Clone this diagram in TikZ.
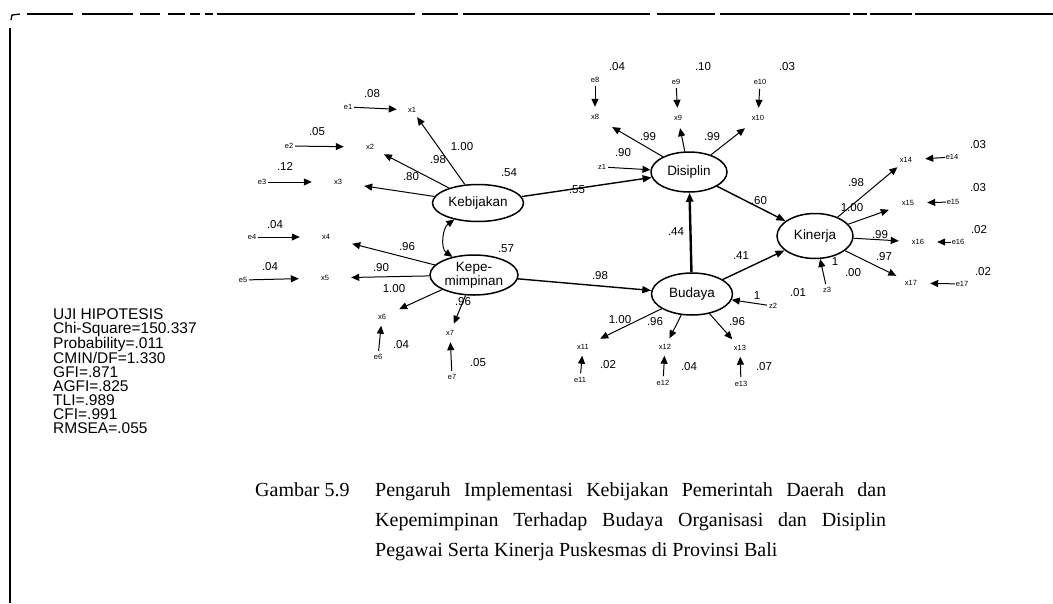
\documentclass[tikz,border=0pt]{standalone}
\usepackage{fontspec}
\setmainfont{Liberation Sans}
\newfontfamily\capfont{Liberation Serif}
\usetikzlibrary{shapes.geometric,arrows.meta}
\begin{document}
\begin{tikzpicture}[x=1pt,y=-1pt,
  lat/.style={ellipse,draw,line width=1.5pt,inner sep=0pt,align=center,font=\fontsize{13.5}{11.5}\selectfont},
  num/.style={font=\fontsize{11.5}{12}\selectfont,inner sep=0.5pt},
  ind/.style={font=\fontsize{7.5}{8}\selectfont,inner sep=0pt,minimum height=14pt},
  err/.style={circle,font=\fontsize{7.5}{8}\selectfont,inner sep=0pt,minimum size=12pt},
  arr/.style={-{Triangle[length=8pt,width=7pt]},line width=1pt},
  spath/.style={-{Triangle[length=9pt,width=7pt]},line width=1.4pt},
  frame/.style={line width=1.3pt}
]
\useasboundingbox (0,0) rectangle (1053,603);
% frame
\draw[frame] (10,603) -- (10,28);
\draw[frame] (11,20) -- (12,15) -- (20,14);
\foreach \a/\b in {27/73,82/133,140/160,168/185,190/200,205/213,217/415,422/458,463/650,657/715,720/850,853/867,870/912,915/1053}
  \draw[frame] (\a,14) -- (\b,14);

% latent variables
\node[lat,minimum width=91pt,minimum height=37pt] (keb) at (478,203) {Kebijakan};
\node[lat,minimum width=88pt,minimum height=40pt] (kep) at (474,275) {Kepe-\\mimpinan};
\node[lat,minimum width=76pt,minimum height=40pt] (dis) at (689,172) {Disiplin};
\node[lat,minimum width=81pt,minimum height=42pt] (bud) at (692,294) {Budaya};
\node[lat,minimum width=76pt,minimum height=45pt] (kin) at (815,236) {Kinerja};
\node[num] (r1) at (509,173) {.54};
\node[num] (r2) at (506,249) {.57};

% structural paths
\draw[spath] (keb) -- (dis);
\node[num] (p1) at (577,190) {.55};
\draw[spath] (kep) -- (bud);
\node[num] (p2) at (600,276) {.98};
\draw[spath,line width=2.4pt] (bud) -- (dis);
\node[num] (p3) at (676,232) {.44};
\draw[spath] (dis) -- (kin);
\node[num] (p4) at (759,201) {.60};
\draw[spath] (bud) -- (kin);
\node[num] (p5) at (741,256) {.41};
\draw[{Triangle[length=8pt,width=7pt]}-{Triangle[length=8pt,width=7pt]},line width=1pt]
  (keb.215) to[out=215,in=145] (kep.140);

% Kebijakan indicators
\node[ind,minimum width=30pt] (x1) at (412,110) {x1};
\node[err] (e1) at (348,107) {e1};
\node[num] at (372,94) {.08};
\draw[arr] (e1) -- (x1);
\draw[arr] (keb) -- (x1);
\node[num] at (462,147) {1.00};

\node[ind,minimum width=52pt] (x2) at (370,147) {x2};
\node[err] (e2) at (289,146) {e2};
\node[num] at (317,132) {.05};
\draw[arr] (e2) -- (x2);
\draw[arr] (keb) -- (x2);
\node[num] at (438,160) {.98};

\node[ind,minimum width=52pt] (x3) at (338,182) {x3};
\node[err] (e3) at (262,182) {e3};
\node[num] at (285,166) {.12};
\draw[arr] (e3) -- (x3);
\draw[arr] (keb) -- (x3);
\node[num] at (411,177) {.80};

% Kepemimpinan indicators
\node[ind,minimum width=52pt] (x4) at (326,237) {x4};
\node[err] (e4) at (252,237) {e4};
\node[num] at (275,225) {.04};
\draw[arr] (e4) -- (x4);
\draw[arr] (kep) -- (x4);
\node[num] at (407,247) {.96};

\node[ind,minimum width=52pt] (x5) at (325,278) {x5};
\node[err] (e5) at (243,280) {e5};
\node[num] at (270,267) {.04};
\draw[arr] (e5) -- (x5);
\draw[arr] (kep) -- (x5);
\node[num] at (381,268) {.90};

\node[ind,minimum width=34pt,minimum height=17pt] (x6) at (382,317) {x6};
\node[err] (e6) at (378,357) {e6};
\node[num] at (401,345) {.04};
\draw[arr] (e6) -- (x6);
\draw[arr] (kep) -- (x6);
\node[num] at (394,289) {1.00};

\node[ind,minimum width=34pt,minimum height=18pt] (x7) at (450,333) {x7};
\node[err] (e7) at (452,377) {e7};
\node[num] at (478,363) {.05};
\draw[arr] (e7) -- (x7);
\draw[arr] (kep) -- (x7);
\node[num] at (463,302) {.96};

% Disiplin indicators
\node[ind,minimum width=34pt,minimum height=20pt] (x8) at (595,117) {x8};
\node[err] (e8) at (595,80) {e8};
\node[num] at (617,67) {.04};
\draw[arr] (e8) -- (x8);
\draw[arr] (dis) -- (x8);
\node[num] at (648,137) {.99};

\node[ind,minimum width=34pt,minimum height=20pt] (x9) at (678,118) {x9};
\node[err] (e9) at (676,82) {e9};
\node[num] at (703,67) {.10};
\draw[arr] (e9) -- (x9);
\draw[arr] (dis) -- (x9);
\node[num] at (712,137) {.99};

\node[ind,minimum width=34pt,minimum height=20pt] (x10) at (758,118) {x10};
\node[err] (e10) at (760,82) {e10};
\node[num] at (787,67) {.03};
\draw[arr] (e10) -- (x10);
\draw[arr] (dis) -- (x10);

\node[err] (z1) at (602,167) {z1};
\node[num] at (623,153) {.90};
\draw[arr] (z1) -- (dis);

% Budaya indicators
\node[ind,minimum width=34pt,minimum height=17pt] (x11) at (583,347) {x11};
\node[err] (e11) at (580,380) {e11};
\node[num] at (608,365) {.02};
\draw[arr] (e11) -- (x11);
\draw[arr] (bud) -- (x11);
\node[num] at (620,320) {1.00};

\node[ind,minimum width=34pt,minimum height=17pt] (x12) at (665,347) {x12};
\node[err] (e12) at (663,383) {e12};
\node[num] at (689,367) {.04};
\draw[arr] (e12) -- (x12);
\draw[arr] (bud) -- (x12);
\node[num] at (655,322) {.96};

\node[ind,minimum width=34pt,minimum height=17pt] (x13) at (740,348) {x13};
\node[err] (e13) at (741,384) {e13};
\node[num] at (764,367) {.07};
\draw[arr] (e13) -- (x13);
\draw[arr] (bud) -- (x13);
\node[num] at (737,322) {.96};

\node[err] (z2) at (773,306) {z2};
\node[num] at (798,293) {.01};
\node[num] at (757,296) {1};
\draw[arr] (z2) -- (bud);

% Kinerja indicators
\node[ind,minimum width=38pt] (x14) at (906,160) {x14};
\node[err] (e14) at (952,157) {e14};
\node[num] at (978,145) {.03};
\draw[arr] (e14) -- (x14);
\draw[arr] (kin) -- (x14);
\node[num] at (856,183) {.98};

\node[ind,minimum width=38pt] (x15) at (908,203) {x15};
\node[err] (e15) at (953,202) {e15};
\node[num] at (978,188) {.03};
\draw[arr] (e15) -- (x15);
\draw[arr] (kin) -- (x15);
\node[num] at (852,208) {1.00};

\node[ind,minimum width=38pt] (x16) at (918,242) {x16};
\node[err] (e16) at (958,242) {e16};
\node[num] at (979,230) {.02};
\draw[arr] (e16) -- (x16);
\draw[arr] (kin) -- (x16);
\node[num] at (880,235) {.99};

\node[ind,minimum width=38pt] (x17) at (911,283) {x17};
\node[err] (e17) at (962,284) {e17};
\node[num] at (983,272) {.02};
\draw[arr] (e17) -- (x17);
\draw[arr] (kin) -- (x17);
\node[num] at (884,257) {.97};

\node[err] (z3) at (827,290) {z3};
\node[num] at (835,262) {1};
\node[num] at (853,273) {.00};
\draw[arr] (z3) -- (kin);

% fit statistics
\node[anchor=north west,align=left,inner sep=0pt,font=\fontsize{15.5}{14}\selectfont] (fit) at (53,308)
 {UJI HIPOTESIS\\Chi-Square=150.337\\Probability=.011\\CMIN/DF=1.330\\GFI=.871\\AGFI=.825\\TLI=.989\\CFI=.991\\RMSEA=.055};

% caption
\node[anchor=north west,inner sep=0pt,font=\capfont\fontsize{20}{30}\selectfont] (cap1) at (255,482) {Gambar 5.9};
\node[anchor=north west,inner sep=0pt,text width=511pt,align=justify,font=\capfont\fontsize{20}{30}\selectfont] (cap2) at (375,482)
 {Pengaruh Implementasi Kebijakan Pemerintah Daerah dan\linebreak Kepemimpinan Terhadap Budaya Organisasi dan Disiplin\linebreak Pegawai Serta Kinerja Puskesmas di Provinsi Bali};
\end{tikzpicture}
\end{document}
